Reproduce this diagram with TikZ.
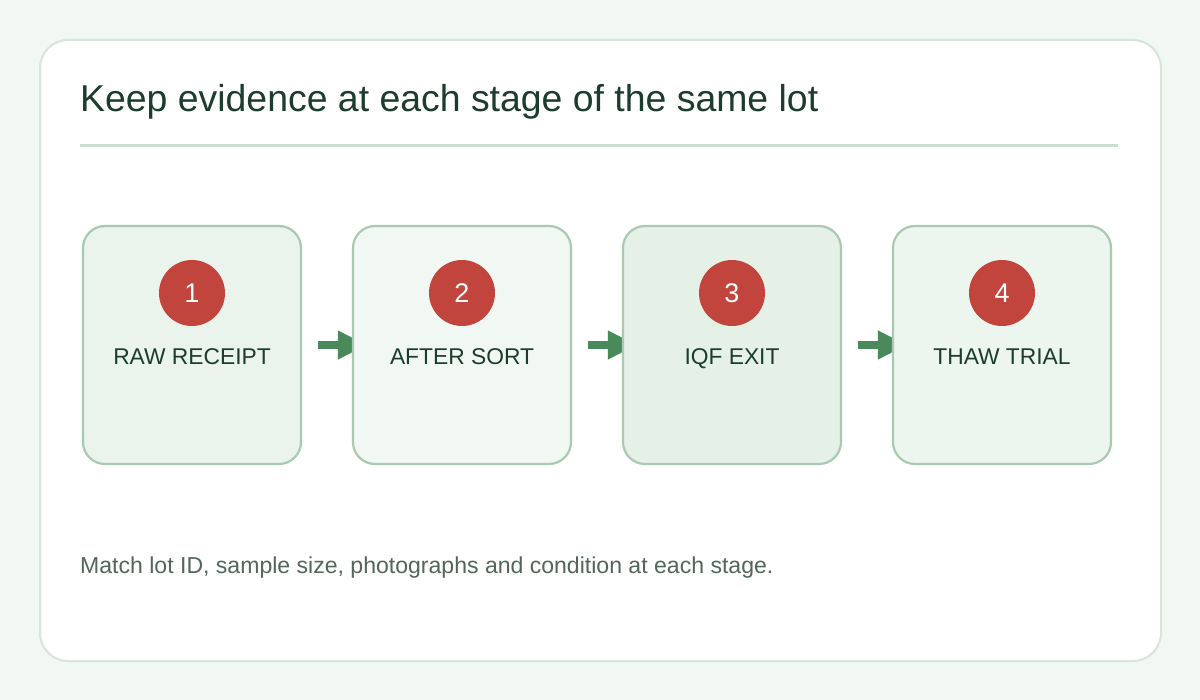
\documentclass[tikz,border=0pt]{standalone}
\usepackage{fontspec}
\setmainfont{Liberation Sans}
\usetikzlibrary{arrows.meta}
\definecolor{pageColor}{RGB}{241,247,243}
\definecolor{cardLine}{RGB}{214,230,218}
\definecolor{ruleColor}{RGB}{201,223,207}
\definecolor{boxLine}{RGB}{169,201,179}
\definecolor{stageA}{RGB}{234,243,236}
\definecolor{stageB}{RGB}{241,247,242}
\definecolor{stageC}{RGB}{229,240,231}
\definecolor{stageD}{RGB}{236,245,238}
\definecolor{dotRed}{RGB}{193,69,60}
\definecolor{flowGreen}{RGB}{74,138,90}
\definecolor{titleColor}{RGB}{28,60,45}
\definecolor{noteColor}{RGB}{82,102,91}
\pgfdeclarelayer{bg}
\pgfdeclarelayer{flow}
\pgfsetlayers{bg,flow,main}

\begin{document}
\begin{tikzpicture}[x=1pt, y=-1pt,
    stagebox/.style={draw=boxLine, line width=2.2pt, rounded corners=22pt,
        minimum width=218pt, minimum height=238pt, inner sep=0pt},
    numdot/.style={circle, fill=dotRed, minimum size=66pt, inner sep=0pt,
        text=white, font=\fontsize{27}{32}\selectfont},
    stagelabel/.style={anchor=base, text=titleColor, font=\fontsize{22.8}{27}\selectfont},
    flowarrow/.style={flowGreen, line width=8pt, shorten <=16pt, shorten >=-15pt,
        -{Triangle[length=29pt, width=27pt]}}]
    \useasboundingbox (0,0) rectangle (1200,700);

    % Fondo y tarjeta
    \begin{pgfonlayer}{bg}
        \fill[pageColor] (0,0) rectangle (1200,700);
        \draw[cardLine, line width=2pt, fill=white, rounded corners=28pt] (40,40) rectangle (1161,661);
    \end{pgfonlayer}

    % Titulo y linea
    \node[anchor=base west, inner sep=0pt, text=titleColor, font=\fontsize{37.4}{44}\selectfont] (title) at (80,112) {Keep evidence at each stage of the same lot};
    \draw[ruleColor, line width=3pt] (80,146) -- (1118,146);

    % Etapas
    \node[stagebox, fill=stageA] (raw) at (192,345) {};
    \node[numdot] (n1) at (192,293) {1};
    \node[stagelabel] (l1) at (192,365) {RAW RECEIPT};

    \node[stagebox, fill=stageB] (sort) at (462,345) {};
    \node[numdot] (n2) at (462,293) {2};
    \node[stagelabel] (l2) at (462,365) {AFTER SORT};

    \node[stagebox, fill=stageC] (iqf) at (732,345) {};
    \node[numdot] (n3) at (732,293) {3};
    \node[stagelabel] (l3) at (732,365) {IQF EXIT};

    \node[stagebox, fill=stageD] (thaw) at (1002,345) {};
    \node[numdot] (n4) at (1002,293) {4};
    \node[stagelabel] (l4) at (1002,365) {THAW TRIAL};

    % Flechas entre etapas (debajo de las cajas)
    \begin{pgfonlayer}{flow}
        \draw[flowarrow] (raw) -- (sort);
        \draw[flowarrow] (sort) -- (iqf);
        \draw[flowarrow] (iqf) -- (thaw);
    \end{pgfonlayer}

    % Nota
    \node[anchor=base west, inner sep=0pt, text=noteColor, font=\fontsize{23.05}{27}\selectfont] (note) at (80,573) {Match lot ID, sample size, photographs and condition at each stage.};
\end{tikzpicture}
\end{document}
